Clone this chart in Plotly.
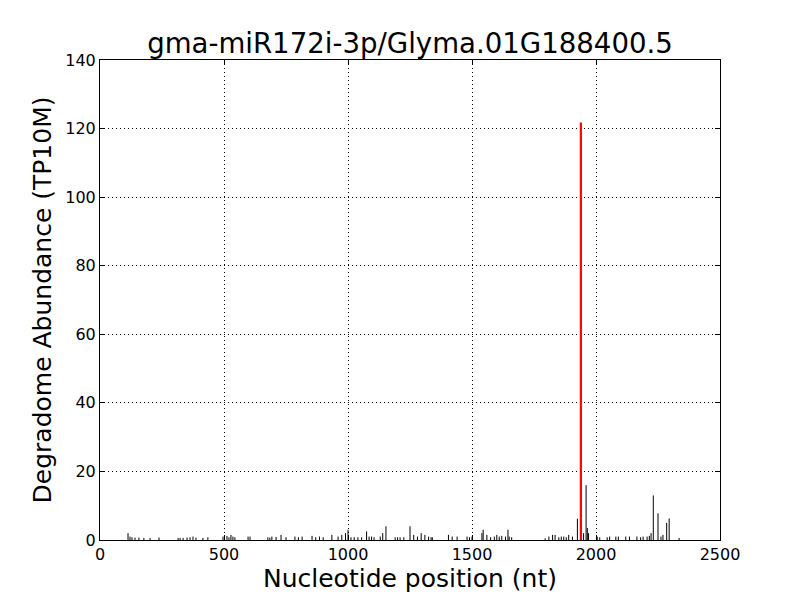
import plotly.graph_objects as go

title_text = "gma-miR172i-3p/Glyma.01G188400.5"
x_label = "Nucleotide position (nt)"
y_label = "Degradome Abundance (TP10M)"

# Black degradome tags: positions (nt) and abundances (TP10M)
pos = [113, 121, 129, 141, 157, 177, 202, 238, 315, 323, 335, 351,
       363, 375, 387, 415, 435, 496, 512, 520, 528, 536, 544, 597, 605, 677, 685,
       693, 710, 730, 750, 786, 800, 815, 855, 870, 885, 900, 935, 960, 975, 990,
       1000, 1012, 1025, 1040, 1055, 1075, 1085, 1095, 1105, 1130, 1140, 1153,
       1190, 1200, 1210, 1225, 1250, 1265, 1280, 1295, 1310, 1325,
       1335, 1340, 1405, 1420, 1440, 1480, 1490, 1500, 1540, 1545, 1560, 1575,
       1590, 1600, 1610, 1620, 1635, 1645, 1650, 1660,
       1795, 1810, 1825, 1835, 1850, 1860, 1870, 1880, 1890, 1905, 1925,
       1950, 1960, 1965, 1970, 2005, 2015, 2045, 2055, 2080, 2090, 2120, 2135,
       2165, 2180, 2190, 2206, 2215, 2222, 2231, 2250, 2262, 2270, 2285, 2295, 2335]
val = [2.0, 1.0, 0.8, 0.7, 0.7, 0.6, 0.6, 0.7, 0.6, 0.6, 0.6, 0.7,
       0.8, 1.0, 0.7, 0.6, 0.8, 1.0, 1.2, 0.8, 1.5, 1.0, 0.8, 1.0, 1.0, 0.8, 0.7,
       1.0, 0.9, 1.5, 0.8, 1.0, 0.8, 1.0, 1.2, 0.8, 1.0, 0.8, 1.5, 1.0, 1.5, 2.0,
       3.0, 0.8, 0.8, 0.8, 0.8, 2.5, 1.0, 1.0, 0.8, 1.0, 2.0, 4.0,
       0.8, 0.8, 0.8, 0.8, 4.0, 1.5, 1.0, 2.0, 1.5, 1.0,
       0.8, 0.8, 1.5, 1.0, 1.0, 1.0, 0.8, 1.0, 2.0, 3.0, 1.5, 0.8,
       1.0, 1.5, 1.0, 1.2, 1.0, 3.0, 1.0, 0.8,
       0.5, 1.0, 1.5, 1.5, 0.8, 1.0, 1.0, 0.8, 1.5, 1.0, 6.2,
       2.0, 16.0, 3.5, 2.0, 1.0, 0.8, 0.8, 1.0, 1.0, 1.0, 1.0, 1.0,
       1.0, 0.8, 1.0, 1.0, 1.2, 2.0, 13.0, 7.8, 1.0, 1.5, 5.0, 6.3, 0.6]

# Predicted cleavage site (red)
site_pos = [1939]
site_val = [121.8]

x_ticks = [0, 500, 1000, 1500, 2000, 2500]
y_ticks = [0, 20, 40, 60, 80, 100, 120, 140]


def stems(xs, ys):
    lx, ly = [], []
    for p, v in zip(xs, ys):
        lx += [p, p, None]
        ly += [0, v, None]
    return lx, ly


bx, by = stems(pos, val)
rx, ry = stems(site_pos, site_val)

fig = go.Figure()
fig.add_trace(go.Scatter(x=bx, y=by, mode="lines",
                         line=dict(color="black", width=1), hoverinfo="skip"))
fig.add_trace(go.Scatter(x=rx, y=ry, mode="lines",
                         line=dict(color="red", width=2.2), hoverinfo="skip"))

axis_common = dict(
    showline=True, linecolor="black", linewidth=1, mirror="allticks",
    ticks="inside", ticklen=5, tickcolor="black", tickwidth=1,
    showgrid=True, gridcolor="black", gridwidth=1, griddash="1px,3px",
    zeroline=False,
    tickfont=dict(family="DejaVu Sans", size=16, color="black"),
)

fig.update_layout(
    width=792, height=592,
    paper_bgcolor="white", plot_bgcolor="white",
    margin=dict(l=92, r=80, t=52, b=60),
    showlegend=False,
    title=dict(text=title_text, xref="paper", x=0.5, xanchor="center",
               y=0.941, yanchor="middle",
               font=dict(family="DejaVu Sans", size=27.6, color="black")),
    xaxis=dict(range=[0, 2500], tickvals=x_ticks,
               title=dict(text=x_label, standoff=6,
                          font=dict(family="DejaVu Sans", size=25, color="black")),
               **axis_common),
    yaxis=dict(range=[0, 140], tickvals=y_ticks,
               title=dict(text=y_label, standoff=6,
                          font=dict(family="DejaVu Sans", size=25, color="black")),
               **axis_common),
)

fig.write_html("out.html")
